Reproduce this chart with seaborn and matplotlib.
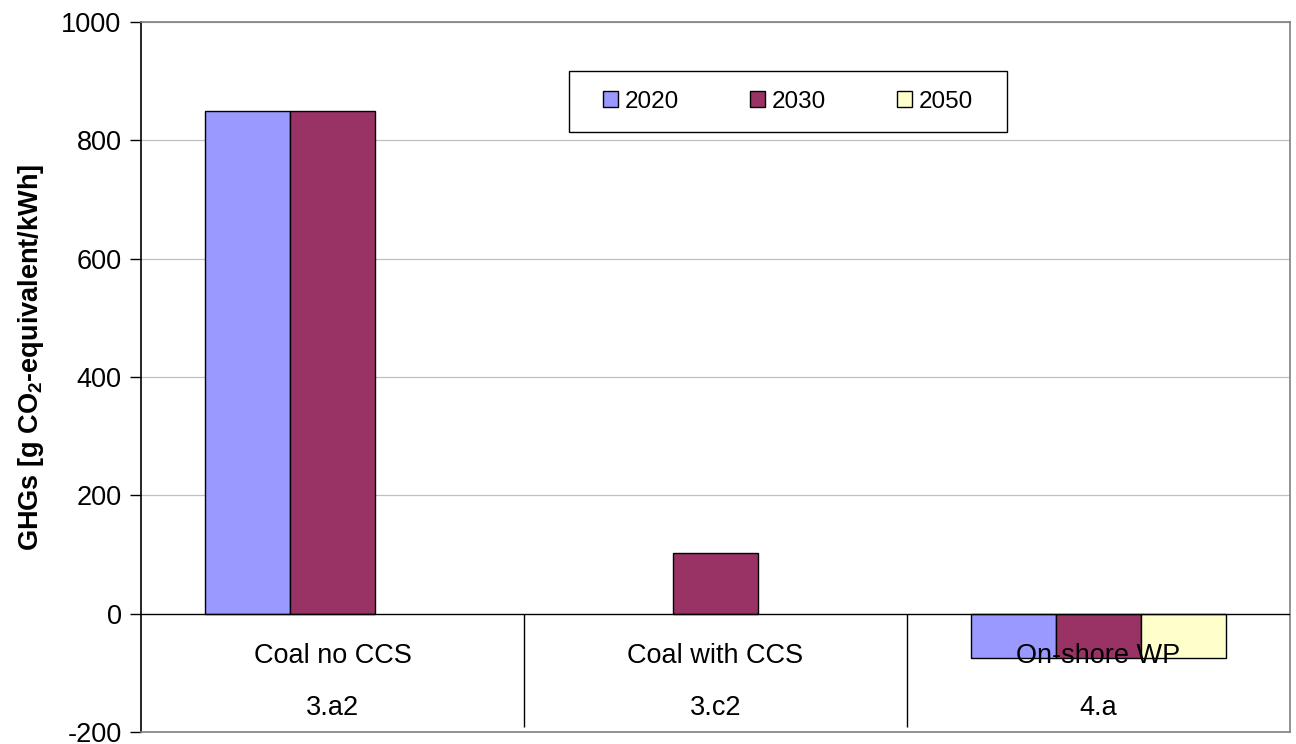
import numpy as np
import pandas as pd
import matplotlib
matplotlib.use('Agg')
import matplotlib.pyplot as plt
import seaborn as sns
from matplotlib.patches import Rectangle

categories = ['Coal no CCS', 'Coal with CCS', 'On-shore WP']
codes = ['3.a2', '3.c2', '4.a']
years = ['2020', '2030', '2050']
ghg_2020 = [850, np.nan, -75]
ghg_2030 = [850, 102, -75]
ghg_2050 = [np.nan, np.nan, -75]
colors = ['#9999FF', '#993366', '#FFFFCC']

rows = []
for yr, vals in zip(years, [ghg_2020, ghg_2030, ghg_2050]):
    for cat, v in zip(categories, vals):
        rows.append({'category': cat, 'year': yr, 'ghg': v})
df = pd.DataFrame(rows).dropna()

sns.set_style('white')
plt.rcParams['font.family'] = ['Liberation Sans', 'DejaVu Sans']
plt.rcParams['text.color'] = 'black'
plt.rcParams['axes.labelcolor'] = 'black'
plt.rcParams['ytick.color'] = 'black'
plt.rcParams['axes.unicode_minus'] = False
plt.rcParams['mathtext.fontset'] = 'custom'
plt.rcParams['mathtext.rm'] = 'Liberation Sans'
plt.rcParams['mathtext.bf'] = 'Liberation Sans:bold'
plt.rcParams['mathtext.default'] = 'bf'

fig = plt.figure(figsize=(12.96, 7.44), dpi=100)
ax = fig.add_axes([141 / 1296, 1 - 732 / 744, 1149 / 1296, 710 / 744])

sns.barplot(data=df, x='category', y='ghg', hue='year', order=categories,
            hue_order=years, palette=colors, width=0.667, edgecolor='black',
            linewidth=1.0, ax=ax, zorder=3, errorbar=None, saturation=1)

ax.set_ylim(-200, 1000)
ax.set_xlim(-0.5, 2.5)
ax.set_yticks(range(-200, 1001, 200))
ax.tick_params(axis='y', labelsize=19.5, direction='out', length=8, width=1,
               color='black', left=True, pad=6)
ax.set_xticks([])
ax.set_xlabel('')
ax.set_ylabel('GHGs [g CO$_2$-equivalent/kWh]', fontsize=19.5, fontweight='bold')
ax.yaxis.set_label_coords(-0.083, 0.528)

for y in range(200, 1001, 200):
    ax.axhline(y, color='#c0c0c0', linewidth=0.9, zorder=0)
ax.axhline(0, color='black', linewidth=1.0, zorder=4)
ax.vlines([0.5, 1.5], -191, 0, color='black', linewidth=1.0, zorder=4)

for i, (cat, code) in enumerate(zip(categories, codes)):
    ax.text(i, -71, cat, ha='center', va='center', fontsize=19.5, zorder=5)
    ax.text(i, -160, code, ha='center', va='center', fontsize=19.5, zorder=5)

for side in ['top', 'right', 'bottom']:
    ax.spines[side].set_color('#808080')
    ax.spines[side].set_linewidth(1.2)
ax.spines['left'].set_color('black')
ax.spines['left'].set_linewidth(1.2)

# legend box drawn by hand, legend itself at figure level on top of it
handles, labels = ax.get_legend_handles_labels()
ax.get_legend().remove()
box = Rectangle((569 / 1296, 1 - 132 / 744), 438 / 1296, 61 / 744,
                transform=fig.transFigure, facecolor='white', edgecolor='black',
                linewidth=1.0, zorder=2)
fig.patches.append(box)
leg = fig.legend(handles, labels, loc='center', ncol=3,
                 bbox_to_anchor=(788 / 1296, 1 - 101.5 / 744),
                 fontsize=17.5, frameon=False,
                 handlelength=0.62, handleheight=0.62, handletextpad=0.3,
                 columnspacing=2.9, borderpad=0)
leg.set_zorder(3)

fig.savefig('out.png', dpi=100)
